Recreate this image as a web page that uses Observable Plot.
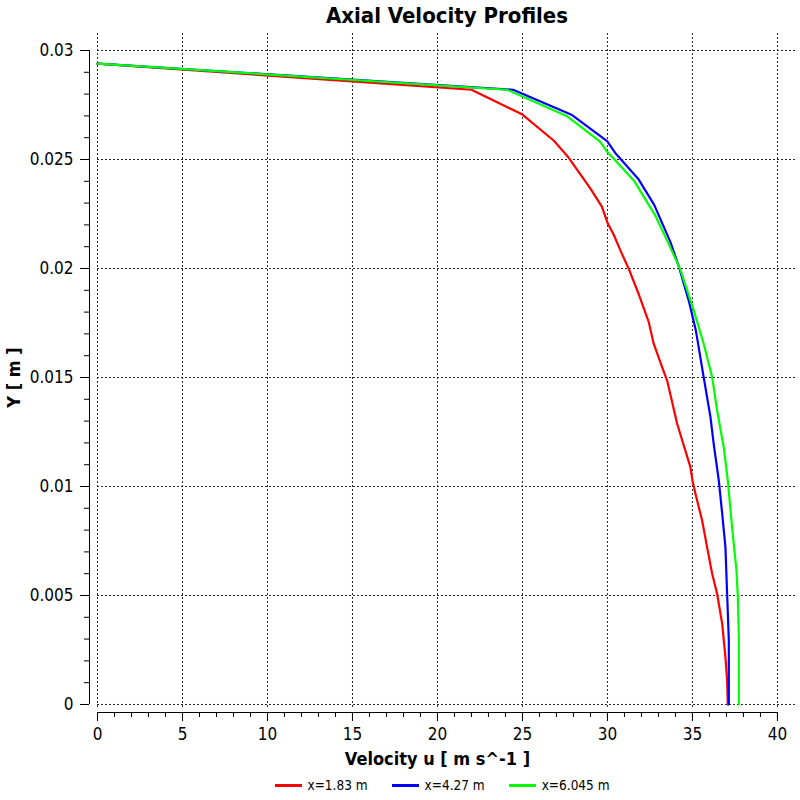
<!DOCTYPE html>
<html><head><meta charset="utf-8">
<script src="https://cdn.jsdelivr.net/npm/d3@7"></script>
<script src="https://cdn.jsdelivr.net/npm/@observablehq/plot@0.6"></script>
<style>
body{margin:0;background:#fff;font-family:"DejaVu Sans Condensed","DejaVu Sans",sans-serif;color:#000;}
#title{height:30px;line-height:31px;padding-left:97px;padding-right:3px;text-align:center;font-weight:bold;font-size:22px;}
#legend{display:flex;justify-content:center;align-items:center;height:20px;padding-left:84px;font-size:13.5px;}
.item{display:flex;align-items:center;margin:0 12px;}
.sw{width:27px;height:3px;margin-right:6px;}
svg{display:block;}
</style></head><body>
<div id="title">Axial Velocity Profiles</div>
<div id="chart"></div>
<div id="legend"></div>
<script>
const seriesNames = ["x=1.83 m", "x=4.27 m", "x=6.045 m"];
const seriesColors = ["#ff0000", "#0000ff", "#00ff00"];

const redU = [0, 22.0, 25.0, 26.85, 27.7, 28.7, 29.0, 29.67, 30.0, 30.37, 30.76, 31.25, 31.8, 32.43, 32.72, 33.22, 33.51, 34.1, 34.88, 35.0, 35.18, 35.57, 35.86, 36.16, 36.45, 36.75, 36.94, 37.04, 37.08];
const redY = [0.0294, 0.0282, 0.02706, 0.02586, 0.0251, 0.0240, 0.02366, 0.02284, 0.0221, 0.02155, 0.02083, 0.01999, 0.0189, 0.01754, 0.01655, 0.01547, 0.01486, 0.01288, 0.01089, 0.01028, 0.00966, 0.00844, 0.00722, 0.0060, 0.00508, 0.0037, 0.00217, 0.0011, 0];

const blueU = [0, 24.45, 27.92, 29.98, 30.5, 31.84, 32.75, 33.7, 34.19, 34.8, 35.2, 35.66, 36.06, 36.25, 36.55, 36.75, 36.94, 37.04, 37.14, 37.14];
const blueY = [0.0294, 0.0282, 0.02704, 0.02584, 0.02526, 0.02408, 0.02292, 0.02122, 0.02012, 0.01848, 0.01716, 0.01502, 0.01318, 0.01196, 0.01028, 0.00875, 0.00722, 0.00508, 0.00294, 0];

const greenU = [0, 24.1, 27.63, 29.55, 30.0, 31.55, 32.8, 33.65, 34.29, 35.08, 35.66, 36.16, 36.45, 36.84, 37.08, 37.33, 37.59, 37.67, 37.73, 37.73];
const greenY = [0.0294, 0.0282, 0.02698, 0.02583, 0.02534, 0.02404, 0.02245, 0.02105, 0.01995, 0.01807, 0.01655, 0.01502, 0.01349, 0.0118, 0.01028, 0.00813, 0.00615, 0.00492, 0.00309, 0];

const xTicks = [0, 5, 10, 15, 20, 25, 30, 35, 40];
const xTickLabels = ["0", "5", "10", "15", "20", "25", "30", "35", "40"];
const xMinor = d3.range(0, 41, 1);
const yTicks = [0, 0.005, 0.01, 0.015, 0.02, 0.025, 0.03];
const yTickLabels = ["0", "0.005", "0.01", "0.015", "0.02", "0.025", "0.03"];
const yMinor = d3.range(0, 31, 1).map(d => d / 1000);

const xTitle = "Velocity u [ m s^-1 ]";
const yTitle = "Y [ m ]";

const uLists = [redU, blueU, greenU];
const yLists = [redY, blueY, greenY];
const rows = [];
seriesNames.forEach((name, i) => {
  uLists[i].forEach((u, j) => rows.push({series: name, u, y: yLists[i][j]}));
});

const xDomain = [0, 41.18];
const yDomain = [-0.000138, 0.03078];
const font = "DejaVu Sans Condensed, DejaVu Sans, sans-serif";

const chart = Plot.plot({
  width: 800,
  height: 745,
  marginLeft: 97,
  marginRight: 3,
  marginTop: 3,
  marginBottom: 68,
  style: {fontFamily: font, fontSize: "17px", color: "#000", background: "#fff"},
  x: {domain: xDomain},
  y: {domain: yDomain},
  color: {domain: seriesNames, range: seriesColors},
  marks: [
    Plot.gridX(xTicks, {stroke: "#000", strokeOpacity: 0.85, strokeDasharray: "2,2", strokeWidth: 1}),
    Plot.gridY(yTicks, {stroke: "#000", strokeOpacity: 0.85, strokeDasharray: "2,2", strokeWidth: 1}),
    Plot.axisX(xMinor, {anchor: "bottom", tickSize: 5, dy: 5, tickFormat: () => "", label: null, stroke: "#000"}),
    Plot.axisX(xTicks, {anchor: "bottom", tickSize: 9, tickPadding: 6, dy: 5, tickFormat: (d, i) => xTickLabels[i], label: null, fontSize: 17, stroke: "#000", fill: "#000"}),
    Plot.axisY(yMinor, {anchor: "left", tickSize: 5, dx: -8, tickFormat: () => "", label: null, stroke: "#000"}),
    Plot.axisY(yTicks, {anchor: "left", tickSize: 9, tickPadding: 7, dx: -8, tickFormat: (d, i) => yTickLabels[i], label: null, fontSize: 17, stroke: "#000", fill: "#000"}),
    Plot.ruleY([yDomain[0]], {x1: 0, x2: 40, dy: 5, stroke: "#000", strokeWidth: 1}),
    Plot.ruleX([0], {y1: 0, y2: 0.03, dx: -8, stroke: "#000", strokeWidth: 1}),
    Plot.line(rows, {x: "u", y: "y", z: "series", stroke: "series", strokeWidth: 2.2}),
    Plot.text([xTitle], {x: 20, frameAnchor: "bottom", dy: 57, text: d => d, fontWeight: "bold", fontSize: 18, fill: "#000"}),
    Plot.text([yTitle], {x: 0, y: 0.015, dx: -83, rotate: -90, text: d => d, fontWeight: "bold", fontSize: 18, fill: "#000"})
  ]
});
document.getElementById("chart").appendChild(chart);

const legend = document.getElementById("legend");
seriesNames.forEach((name, i) => {
  const item = document.createElement("div");
  item.className = "item";
  const sw = document.createElement("div");
  sw.className = "sw";
  sw.style.background = seriesColors[i];
  const t = document.createElement("span");
  t.textContent = name;
  item.appendChild(sw);
  item.appendChild(t);
  legend.appendChild(item);
});
</script>
</body></html>
